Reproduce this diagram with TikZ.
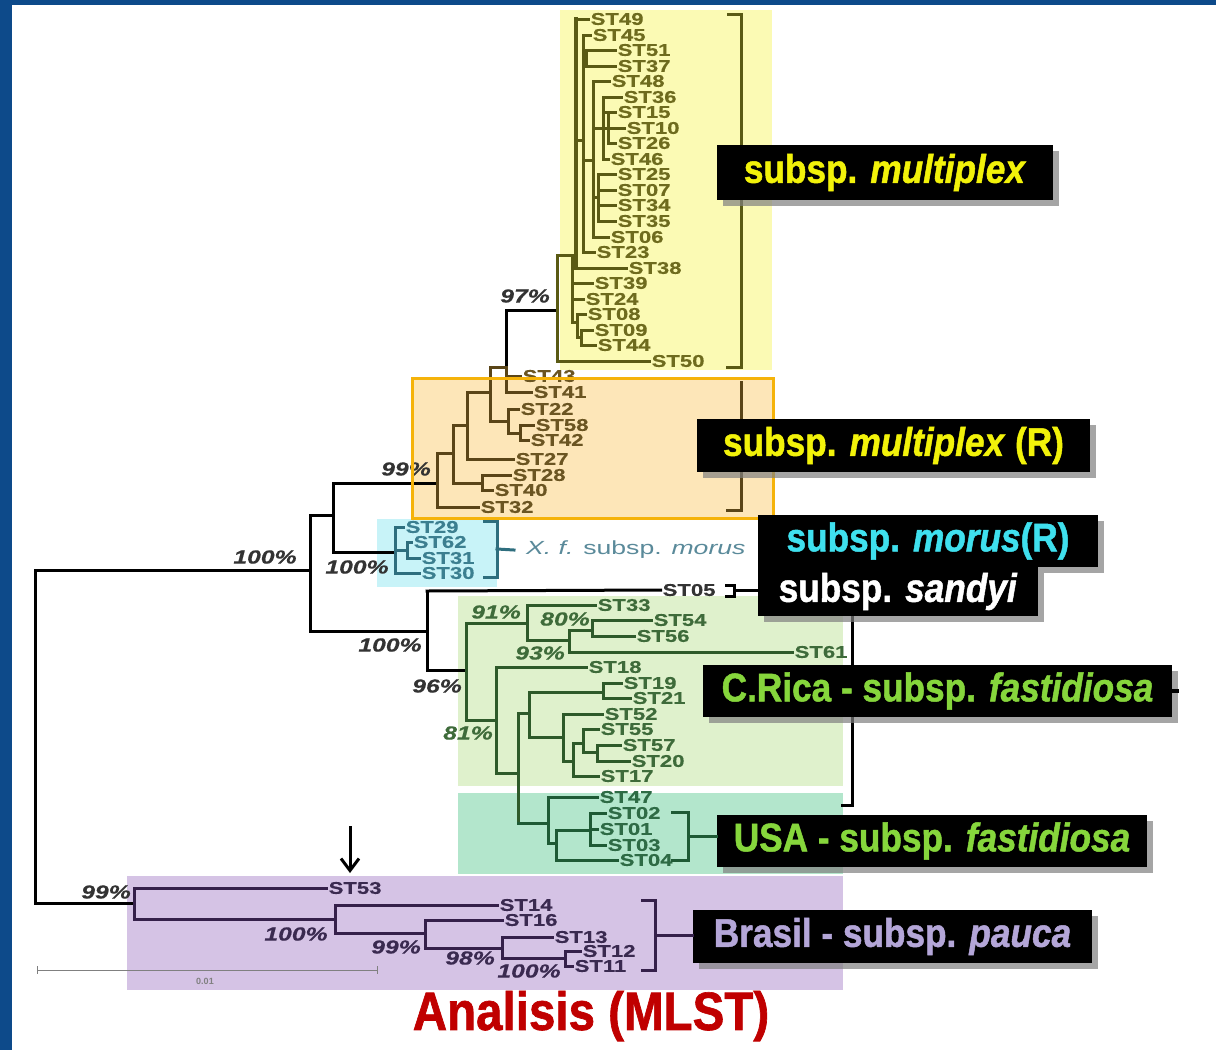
\documentclass[tikz,border=0pt]{standalone}
\usepackage{fontspec}
\usetikzlibrary{arrows.meta,shadows}
\newfontfamily\tipf[FakeStretch=1.3,FakeBold=0.4]{Liberation Sans}
\newfontfamily\morf[FakeStretch=1.4]{Liberation Sans}
\newfontfamily\boxf[FakeStretch=0.88,FakeBold=1.2]{Liberation Sans}
\newfontfamily\scf{Liberation Sans}
\definecolor{frameblue}{HTML}{0D4A8A}
\definecolor{bgyel}{HTML}{FBFAB4}
\definecolor{bgora}{HTML}{FDE6B8}
\definecolor{oraline}{HTML}{F5B30A}
\definecolor{bgcya}{HTML}{C8F3F8}
\definecolor{bggre}{HTML}{DFF1CC}
\definecolor{bgtea}{HTML}{B3E6CC}
\definecolor{bgpur}{HTML}{D5C3E5}
\definecolor{olt}{HTML}{6E6B1E}\definecolor{oll}{HTML}{5A5A14}
\definecolor{brt}{HTML}{6B5522}\definecolor{brl}{HTML}{5A4518}
\definecolor{tet}{HTML}{3C7F90}\definecolor{tel}{HTML}{2E6E7E}
\definecolor{grt}{HTML}{3E6B3A}\definecolor{grl}{HTML}{2E5A2A}
\definecolor{ust}{HTML}{2E6B45}\definecolor{usl}{HTML}{1E5A35}
\definecolor{put}{HTML}{3A2A50}\definecolor{pul}{HTML}{35204A}
\definecolor{dkt}{HTML}{333333}
\definecolor{ylab}{HTML}{F2F20A}
\definecolor{clab}{HTML}{3FE0EE}
\definecolor{glab}{HTML}{86D63C}
\definecolor{plab}{HTML}{B4A6D8}
\definecolor{titred}{HTML}{C00000}
\definecolor{morustxt}{HTML}{5A8A9A}
\newcommand\tips[3]{\foreach \n/\x/\y/\s in {#3} {\node[tip,text=#1] (\n) at (\x,\y) {\n}; \draw[br,draw=#2] (\s,\y) -- ([xshift=-1.5pt]\n.west);}}
\begin{document}
\begin{tikzpicture}[x=1pt,y=-1pt,
  br/.style={line width=3pt,line cap=rect},
  tip/.style={anchor=west,inner sep=0.5pt,font=\tipf\bfseries\fontsize{17}{17}\selectfont},
  pct/.style={inner sep=0pt,font=\tipf\bfseries\itshape\fontsize{19}{19}\selectfont},
  lbox/.style={fill=black,inner sep=0pt,font=\boxf\bfseries\fontsize{40}{40}\selectfont,
     drop shadow={shadow xshift=6pt,shadow yshift=-6pt,fill=black!50,opacity=0.7}}]
\useasboundingbox (0,0) rectangle (1216,1050);
\fill[white] (0,0) rectangle (1216,1050);
% backgrounds
\fill[bgyel] (560,10) rectangle (772,370);
\fill[bgora] (412,378) rectangle (773,518);
\fill[bgcya] (377,519) rectangle (497,587);
\fill[bggre] (458,596) rectangle (843,786);
\fill[bgtea] (458,793) rectangle (843,874);
\fill[bgpur] (127,876) rectangle (843,990);
% backbone
\draw[br,black] (35,570) -- (35,903) (35,570) -- (310,570) (35,903) -- (134,903)
  (310,515) -- (310,631) (310,515) -- (333,515) (333,483) -- (333,552)
  (333,483) -- (437,483) (333,552) -- (395,552)
  (310,631) -- (427,631) (427,591) -- (427,670) (427,670) -- (466,670)
  (506,310) -- (557,310) (506,310) -- (506,367);
% multiplex
\tips{olt}{oll}{ST49/590/19/576, ST45/592/35/583, ST51/617/50/586, ST37/617/66/586, ST48/611/81/593, ST36/623/97/603, ST15/617/112/603, ST10/626/128/608, ST26/617/143/608, ST46/610/159/603, ST25/617/174/598, ST07/617/190/598, ST34/617/205/598, ST35/617/221/598, ST06/610/237/593, ST23/596/252/583, ST38/628/268/576, ST39/594/283/572, ST24/585/299/572, ST08/587/314/577, ST09/594/330/581, ST44/597/345/581, ST50/651/361/557}
\draw[br,oll,line width=4.2pt] (576,19) -- (576,268);
\draw[br,oll] (583,35) -- (583,252) (576,140) -- (583,140)
  (586,50) -- (586,66) (583,58) -- (586,58)
  (593,81) -- (593,237) (583,160) -- (593,160)
  (603,97) -- (603,159) (593,128) -- (603,128)
  (608,112) -- (608,143) (603,128) -- (608,128)
  (598,174) -- (598,221) (593,197) -- (598,197)
  (572,255) -- (572,322) (557,255) -- (576,255)
  (577,314) -- (577,337) (572,322) -- (577,322)
  (581,330) -- (581,345) (577,337) -- (581,337)
  (557,255) -- (557,361);
% multiplex R
\tips{brt}{brl}{ST43/522/376/506, ST41/533/392/506, ST22/520/409/508, ST58/535/425/520, ST42/530/440/520, ST27/515/459/467, ST28/512/475/482, ST40/494/490/482, ST32/480/507/437}
\draw[br,brl] (506,367) -- (506,392) (490,367) -- (506,367)
  (490,367) -- (490,421) (490,421) -- (508,421) (508,409) -- (508,433)
  (508,433) -- (520,433) (520,425) -- (520,440)
  (467,392) -- (490,392) (467,392) -- (467,459)
  (453,425) -- (467,425) (453,425) -- (453,483) (453,483) -- (482,483) (482,475) -- (482,490)
  (437,453) -- (453,453) (437,453) -- (437,507);
% morus
\tips{tet}{tel}{ST29/405/527/395, ST62/413/542/407, ST31/421/558/407, ST30/421/573/395}
\draw[br,tel] (395,527) -- (395,573) (395,550) -- (407,550) (407,542) -- (407,558);
% sandyi
\node[tip,text=dkt] (ST05) at (662,590) {ST05};
\draw[br,black] (427,591) -- ([xshift=-1.5pt]ST05.west);
% C.Rica
\tips{grt}{grl}{ST33/597/605/527, ST54/653/620/592, ST56/636/636/592, ST61/794/652/569, ST18/588/667/496, ST19/623/683/603, ST21/632/698/603, ST52/604/714/563, ST55/600/729/583, ST57/622/745/597, ST20/631/761/597, ST17/600/776/573}
\draw[br,grl] (466,623) -- (466,720) (466,623) -- (527,623) (527,605) -- (527,640)
  (527,640) -- (569,640) (569,630) -- (569,652) (569,630) -- (592,630) (592,620) -- (592,636)
  (466,720) -- (496,720) (496,667) -- (496,773) (496,773) -- (518,773) (518,713) -- (518,823)
  (518,713) -- (529,713) (529,692) -- (529,737) (529,692) -- (603,692) (603,683) -- (603,698)
  (529,737) -- (563,737) (563,714) -- (563,761) (563,761) -- (573,761) (573,743) -- (573,776)
  (573,743) -- (583,743) (583,729) -- (583,752) (583,752) -- (597,752) (597,745) -- (597,761);
% USA
\tips{ust}{usl}{ST47/599/797/548, ST02/607/813/590, ST01/599/829/590, ST03/607/845/590, ST04/619/860/556}
\draw[br,usl] (518,823) -- (548,823) (548,797) -- (548,843) (548,843) -- (556,843)
  (556,830) -- (556,860) (556,830) -- (590,830) (590,813) -- (590,845);
% Brasil
\tips{put}{pul}{ST53/328/888/134, ST14/499/905/335, ST16/504/920/425, ST13/554/937/502, ST12/582/951/565, ST11/574/966/565}
\draw[br,pul] (134,888) -- (134,919) (134,919) -- (335,919) (335,905) -- (335,933)
  (335,933) -- (425,933) (425,920) -- (425,948) (425,948) -- (502,948)
  (502,937) -- (502,958) (502,958) -- (565,958) (565,951) -- (565,966);
% percentages
\node[pct,text=dkt] (p97) at (525,296) {97\%};
\node[pct,text=dkt] (p99a) at (406,469) {99\%};
\node[pct,text=dkt] (p100a) at (265,557) {100\%};
\node[pct,text=dkt] (p100b) at (357,567) {100\%};
\node[pct,text=dkt] (p100c) at (390,645) {100\%};
\node[pct,text=dkt] (p96) at (437,686) {96\%};
\node[pct,text=grt] (p91) at (496,612) {91\%};
\node[pct,text=grt] (p80) at (565,619) {80\%};
\node[pct,text=grt] (p93) at (540,653) {93\%};
\node[pct,text=grt] (p81) at (468,733) {81\%};
\node[pct,text=dkt] (p99b) at (106,892) {99\%};
\node[pct,text=put] (p100d) at (296,934) {100\%};
\node[pct,text=put] (p99c) at (396,947) {99\%};
\node[pct,text=put] (p98) at (470,958) {98\%};
\node[pct,text=put] (p100e) at (529,971) {100\%};
% orange border
\draw[oraline,line width=3pt] (412,378) rectangle (773,518);
% brackets
\draw[br,oll] (728,14) -- (741,14) -- (741,367) -- (727,367);
\draw[br,brl] (741,382) -- (741,510) -- (727,510);
\draw[br,tel] (484,521) -- (497,521) -- (497,577) -- (484,577);
\coordinate (morB) at (497,549);
\node[anchor=west,inner sep=0pt,text=morustxt,font=\morf\itshape\fontsize{19}{19}\selectfont] (morustext) at (526,550) {X. f. {\upshape subsp.} morus};
\draw[br,tel] (morB) -- ([xshift=-12pt]morustext.west);
\draw[br,black] (726,585) -- (734,585) -- (734,596) -- (726,596);
\coordinate (sanB) at (734,590);
\draw[br,black] (852,616) -- (852,805) -- (842,805);
\draw[br,usl] (672,812) -- (688,812) -- (688,860) -- (672,860);
\coordinate (usaB) at (688,836);
\draw[br,pul] (642,900) -- (655,900) -- (655,970) -- (642,970);
\coordinate (braB) at (655,935);
% scale bar
\draw[gray,line width=1pt] (37,970) -- (377,970) (37,966) -- (37,974) (377,966) -- (377,974);
\node[text=gray,font=\scf\bfseries\fontsize{9}{9}\selectfont] (scl) at (205,981) {0.01};
% arrow
\coordinate (arA) at (350,826);
\coordinate (arB) at (350,873);
\draw[line width=3pt,-{Straight Barb[length=12pt,width=18pt]}] (arA) -- (arB);
% label boxes
\node[lbox,minimum width=336pt,minimum height=55pt,text=ylab] (bmult) at (885,172.5) {subsp. \textit{multiplex}};
\node[lbox,minimum width=393pt,minimum height=53pt,text=ylab] (bmultr) at (893.5,445.5) {subsp. \textit{multiplex} (R)};
\node[lbox,minimum width=340pt,minimum height=52pt,text=clab] (bmorus) at (928,541) {subsp. \textit{morus}(R)};
\node[lbox,minimum width=280pt,minimum height=49pt,text=white] (bsandyi) at (898,591.5) {subsp. \textit{sandyi}};
\node[lbox,minimum width=469pt,minimum height=52pt,text=glab] (bcrica) at (937.5,691) {C.Rica - subsp. \textit{fastidiosa}};
\node[lbox,minimum width=430pt,minimum height=52pt,text=glab] (busa) at (932,841) {USA - subsp. \textit{fastidiosa}};
\node[lbox,minimum width=399pt,minimum height=53pt,text=plab] (bbras) at (892.5,936.5) {Brasil - subsp. \textit{pauca}};
\draw[br,black] (sanB) -- (bsandyi.west |- sanB);
\draw[br,usl] (usaB) -- (busa.west |- usaB);
\draw[br,pul] (braB) -- (bbras.west |- braB);
\draw[line width=4pt,black] (bcrica.east) -- ++(7,0);
% title
\node[text=titred,font=\boxf\bfseries\fontsize{54}{54}\selectfont,inner sep=0pt] (title) at (591,1016) {Analisis (MLST)};
% frame
\fill[frameblue] (0,0) rectangle (12,1050);
\fill[frameblue] (0,0) rectangle (1216,5);
\end{tikzpicture}
\end{document}
